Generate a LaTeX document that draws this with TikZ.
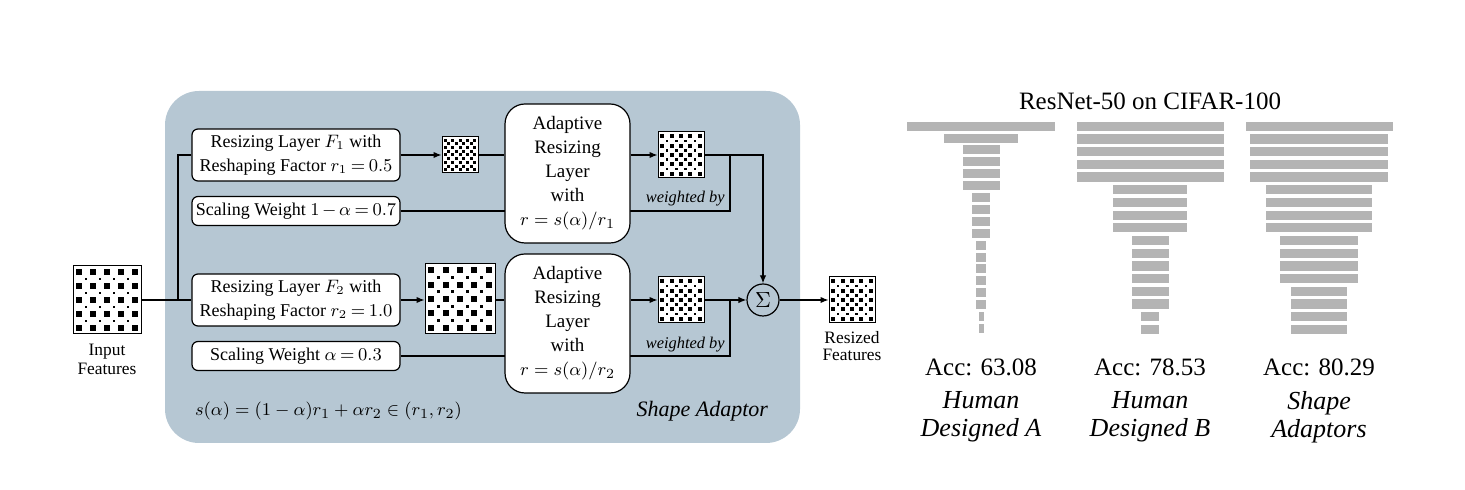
\documentclass[tikz,border=0pt]{standalone}
\usepackage{fontspec}
\setmainfont{Liberation Serif}
\usepackage{tikz}
\usetikzlibrary{arrows.meta,positioning,calc}
\definecolor{adaptorblue}{RGB}{182,199,211}
\definecolor{bargray}{RGB}{180,180,180}
\newcommand{\tightmath}{\medmuskip=2.5mu\relax\thickmuskip=3.5mu\relax}

% feature map: name, x, y, side, n, big square, small square
\newcommand{\featmap}[7]{%
  \node[draw, fill=white, line width=0.5pt, minimum size=#4*0.5pt, inner sep=0pt] (#1) at (#2,#3) {};
  \pgfmathsetmacro{\fmoff}{0.09*#4}
  \pgfmathsetmacro{\fmstep}{(#4-2*\fmoff)/(#5-1)}
  \foreach \i in {1,...,#5} {
    \foreach \j in {1,...,#5} {
      \fill ({#2-#4/2+\fmoff+(\i-1)*\fmstep-#6/2},{#3-#4/2+\fmoff+(\j-1)*\fmstep-#6/2}) rectangle ++(#6,#6);
    }
  }
  \foreach \i in {2,...,#5} {
    \foreach \j in {2,...,#5} {
      \fill ({#2-#4/2+\fmoff+(\i-1.5)*\fmstep-#7/2},{#3-#4/2+\fmoff+(\j-1.5)*\fmstep-#7/2}) rectangle ++(#7,#7);
    }
  }
}

\begin{document}
\begin{tikzpicture}[x=0.5pt, y=-0.5pt,
    layerbox/.style={draw, fill=white, rounded corners=3pt, line width=0.6pt, minimum width=104pt, align=center, inner sep=0pt, font=\fontsize{9}{12}\selectfont\tightmath},
    adaptbox/.style={draw, fill=white, rounded corners=10pt, line width=0.6pt, minimum width=62.5pt, minimum height=69.5pt, align=center, inner sep=0pt, font=\fontsize{9.5}{12}\selectfont},
    flow/.style={line width=0.6pt},
    arr/.style={flow, -{Latex[length=4pt, width=3.2pt]}},
    wlabel/.style={anchor=east, inner sep=1pt, font=\fontsize{8.2}{10}\itshape},
    barlabel/.style={align=center, font=\fontsize{13}{14}\itshape}
  ]
    \useasboundingbox (0,0) rectangle (1465,490);

    \fill[adaptorblue, rounded corners=17pt] (165,91) rectangle (800,443);

    \featmap{input}{107}{300}{68}{5}{5.5}{2.7}
    \node[anchor=north, align=center, font=\fontsize{8.7}{9.3}\selectfont] (inlabel) at (107,337) {Input\\Features};

    \node[layerbox, minimum height=26pt] (resize1) at (296,155) {Resizing Layer $F_1$ with\\Reshaping Factor $r_1 = 0.5$};
    \node[layerbox, minimum height=14.5pt] (weight1) at (296,211) {Scaling Weight $1 - \alpha = 0.7$};
    \node[layerbox, minimum height=26pt] (resize2) at (296,300) {Resizing Layer $F_2$ with\\Reshaping Factor $r_2 = 1.0$};
    \node[layerbox, minimum height=14.5pt] (weight2) at (296,356) {Scaling Weight $\alpha = 0.3$};

    \coordinate (split) at (178,300);
    \draw[flow] (input.east) -- (resize2.west);
    \draw[flow] (split) |- (resize1.west);

    \coordinate (join1) at (730,155);
    \coordinate (join2) at (730,300);
    \draw[flow] (weight1.east) -| (join1);
    \draw[flow] (weight2.east) -| (join2);

    \featmap{small1}{460}{155}{36}{5}{3}{3}
    \featmap{big2}{460}{299}{70}{5}{6}{3}
    \draw[arr] (resize1.east) -- (small1.west);
    \draw[arr] (resize2.east) -- (big2.west |- resize2.east);

    \node[adaptbox] (adapt1) at (567.5,173.5) {Adaptive\\Resizing\\Layer\\with\\$r = s(\alpha)/r_1$};
    \node[adaptbox] (adapt2) at (567.5,323.5) {Adaptive\\Resizing\\Layer\\with\\$r = s(\alpha)/r_2$};
    \draw[flow] (small1.east) -- (adapt1.west |- small1.east);
    \draw[flow] (big2.east |- adapt2.west |- 0,300) -- (adapt2.west |- 0,300);

    \featmap{out1}{681}{155}{46}{5}{4}{2.5}
    \featmap{out2}{681}{300}{46}{5}{4}{2.5}
    \draw[arr] (adapt1.east |- out1.west) -- (out1.west);
    \draw[arr] (adapt2.east |- out2.west) -- (out2.west);

    \node[circle, draw, line width=0.6pt, minimum size=16pt, inner sep=0pt, font=\fontsize{11}{12}\selectfont] (sum) at (763,300) {$\Sigma$};
    \draw[arr] (out1.east) -| (sum.north);
    \draw[arr] (out2.east) -- (sum.west);

    \node[wlabel] (wlabel1) at (727,199) {weighted by};
    \node[wlabel] (wlabel2) at (727,345) {weighted by};

    \featmap{resized}{852}{300}{46}{5}{4}{2.5}
    \draw[arr] (sum.east) -- (resized.west);
    \node[anchor=north, align=center, font=\fontsize{8.7}{8.7}\selectfont] (outlabel) at (852,324) {Resized\\Features};

    \node[anchor=west, font=\fontsize{9.3}{12}\selectfont] (formula) at (188,411) {$s(\alpha) = (1-\alpha)r_1 + \alpha r_2 \in (r_1, r_2)$};
    \node[anchor=east, font=\fontsize{11}{13}\itshape] (adaptorname) at (775,411) {Shape Adaptor};

    \node[font=\fontsize{12.5}{14}\selectfont] (title) at (1150,101) {ResNet-50 on CIFAR-100};

    \foreach \w [count=\k from 0] in {148,74,37,37,37,37,18.7,18.7,18.7,18.7,9.7,9.7,9.7,9.7,9.7,9.7,5,5}
      \fill[bargray] ({981-\w/2},{121.7+\k*11.9}) rectangle ++(\w,9);
    \foreach \w [count=\k from 0] in {147,147,147,147,147,74,74,74,74,37,37,37,37,37,37,18.7,18.7}
      \fill[bargray] ({1150-\w/2},{121.7+\k*12.7}) rectangle ++(\w,9.2);
    \foreach \w [count=\k from 0] in {147,138.7,138.7,138.7,138.7,106,106,106,106,78.7,78.7,78.7,78.7,55.3,55.3,55.3,55.3}
      \fill[bargray] ({1319-\w/2},{121.7+\k*12.7}) rectangle ++(\w,9.2);

    \node[font=\fontsize{12.5}{14}\selectfont] (accA) at (981,367) {Acc: 63.08};
    \node[font=\fontsize{12.5}{14}\selectfont] (accB) at (1150,367) {Acc: 78.53};
    \node[font=\fontsize{12.5}{14}\selectfont] (accC) at (1319,367) {Acc: 80.29};
    \node[barlabel] (nameA) at (981,417) {Human\\Designed A};
    \node[barlabel] (nameB) at (1150,417) {Human\\Designed B};
    \node[barlabel] (nameC) at (1319,417) {Shape\\Adaptors};
\end{tikzpicture}
\end{document}
